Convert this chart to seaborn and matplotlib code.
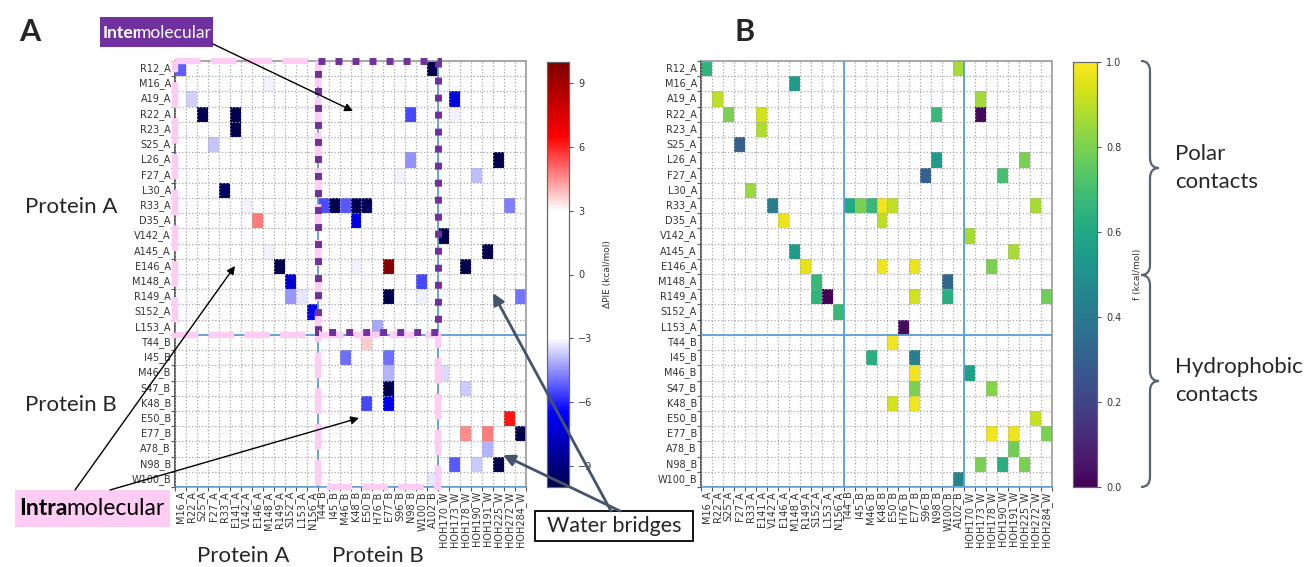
import numpy as np
import pandas as pd
import matplotlib
matplotlib.use("Agg")
import matplotlib.pyplot as plt
import seaborn as sns
from matplotlib.colors import LinearSegmentedColormap
from matplotlib.patches import Rectangle, PathPatch, FancyArrowPatch
from matplotlib.path import Path

# ---------------- data ----------------
row_labels = ["R12_A", "M16_A", "A19_A", "R22_A", "R23_A", "S25_A", "L26_A", "F27_A", "L30_A",
              "R33_A", "D35_A", "V142_A", "A145_A", "E146_A", "M148_A", "R149_A", "S152_A", "L153_A",
              "T44_B", "I45_B", "M46_B", "S47_B", "K48_B", "E50_B", "E77_B", "A78_B", "N98_B", "W100_B"]
col_labels = ["M16_A", "R22_A", "S25_A", "F27_A", "R33_A", "E141_A", "V142_A", "E146_A", "M148_A",
              "R149_A", "S152_A", "L153_A", "N156_A",
              "T44_B", "I45_B", "M46_B", "K48_B", "E50_B", "H76_B", "E77_B", "S96_B", "N98_B", "W100_B", "A102_B",
              "HOH170_W", "HOH173_W", "HOH178_W", "HOH190_W", "HOH191_W", "HOH225_W", "HOH272_W", "HOH284_W"]

contact_res1 = ["R12_A", "R12_A", "M16_A", "A19_A", "A19_A", "R22_A", "R22_A", "R22_A", "R22_A", "R23_A",
                "S25_A", "L26_A", "L26_A", "F27_A", "F27_A", "L30_A", "R33_A", "R33_A", "R33_A", "R33_A",
                "R33_A", "R33_A", "R33_A", "D35_A", "D35_A", "V142_A", "A145_A", "A145_A", "E146_A", "E146_A",
                "E146_A", "E146_A", "M148_A", "M148_A", "R149_A", "R149_A", "R149_A", "R149_A", "R149_A", "S152_A",
                "L153_A", "T44_B", "I45_B", "I45_B", "M46_B", "M46_B", "S47_B", "S47_B", "K48_B", "K48_B",
                "E50_B", "E77_B", "E77_B", "E77_B", "A78_B", "N98_B", "N98_B", "N98_B", "W100_B"]
contact_res2 = ["M16_A", "A102_B", "M148_A", "R22_A", "HOH173_W", "S25_A", "E141_A", "N98_B", "HOH173_W", "E141_A",
                "F27_A", "N98_B", "HOH225_W", "S96_B", "HOH190_W", "R33_A", "V142_A", "T44_B", "I45_B", "M46_B",
                "K48_B", "E50_B", "HOH272_W", "E146_A", "K48_B", "HOH170_W", "M148_A", "HOH191_W", "R149_A", "K48_B",
                "E77_B", "HOH178_W", "S152_A", "W100_B", "S152_A", "L153_A", "E77_B", "W100_B", "HOH284_W", "N156_A",
                "H76_B", "E50_B", "M46_B", "E77_B", "E77_B", "HOH170_W", "E77_B", "HOH178_W", "E50_B", "E77_B",
                "HOH272_W", "HOH178_W", "HOH191_W", "HOH284_W", "HOH191_W", "HOH173_W", "HOH190_W", "HOH225_W", "A102_B"]
dpie_values = [-5.2, -10.0, -3.2, -3.6, -7.0, -10.0, -10.0, -5.5, -3.2, -10.0,
               -3.8, -4.5, -10.0, -3.2, -3.9, -9.5, -3.2, -5.4, -10.0, -5.3,
               -10.0, -9.8, -4.7, 4.8, -7.0, -10.0, -3.2, -10.0, -10.0, -3.2,
               9.8, -10.0, -7.3, -5.5, -4.4, -3.3, -10.0, -3.2, -4.9, -6.8,
               -4.2, 3.7, -5.0, -5.0, -4.0, -3.5, -10.0, -3.7, -5.5, -6.8,
               6.2, 4.6, 4.8, -10.0, -4.0, -5.3, -3.7, -10.0, -3.3]
f_values = [0.65, 0.87, 0.55, 0.90, 0.86, 0.80, 0.93, 0.67, 0.02, 0.88,
            0.30, 0.55, 0.80, 0.30, 0.70, 0.85, 0.42, 0.60, 0.80, 0.67,
            0.98, 0.90, 0.87, 0.97, 0.90, 0.87, 0.55, 0.87, 0.96, 0.98,
            0.97, 0.80, 0.67, 0.33, 0.65, 0.00, 0.93, 0.63, 0.78, 0.67,
            0.03, 0.98, 0.63, 0.42, 0.98, 0.57, 0.80, 0.82, 0.93, 0.98,
            0.92, 0.98, 0.97, 0.80, 0.78, 0.80, 0.63, 0.80, 0.45]

pie_ticks = [-9, -6, -3, 0, 3, 6, 9]
f_ticks = [0.0, 0.2, 0.4, 0.6, 0.8, 1.0]

# ---------------- build matrices ----------------
df = pd.DataFrame({"res1": contact_res1, "res2": contact_res2, "dpie": dpie_values, "f": f_values})
dpie_mat = df.pivot(index="res1", columns="res2", values="dpie").reindex(index=row_labels, columns=col_labels)
f_mat = df.pivot(index="res1", columns="res2", values="f").reindex(index=row_labels, columns=col_labels)

sns.set_theme(style="white")
plt.rcParams["font.family"] = ["DejaVu Sans"]

W, H = 1313, 567
fig = plt.figure(figsize=(W / 100, H / 100), dpi=100)
fig.patch.set_facecolor("white")


def fax(x0, y0, x1, y1):
    return fig.add_axes([x0 / W, 1 - y1 / H, (x1 - x0) / W, (y1 - y0) / H])


axA = fax(175, 61, 526, 487)
caxA = fax(547, 62, 569, 487)
axB = fax(701, 61, 1052, 487)
caxB = fax(1073, 62, 1097, 487)

lo, hi = -10.0, 10.0
def cpos(v):
    return (v - lo) / (hi - lo)

cmap_pie = LinearSegmentedColormap.from_list("pie", [
    (cpos(-10), (0.0, 0.0, 0.3)), (cpos(-6.5), (0.0, 0.0, 1.0)), (cpos(-3), (1, 1, 1)),
    (cpos(3), (1, 1, 1)), (cpos(6.5), (1.0, 0.0, 0.0)), (cpos(10), (0.5, 0.0, 0.0))])

sns.heatmap(dpie_mat, ax=axA, cmap=cmap_pie, vmin=lo, vmax=hi, cbar_ax=caxA,
            cbar_kws={"ticks": pie_ticks}, xticklabels=True, yticklabels=True)
sns.heatmap(f_mat, ax=axB, cmap="viridis", vmin=0, vmax=1, cbar_ax=caxB,
            cbar_kws={"ticks": f_ticks}, xticklabels=True, yticklabels=True)

nr, nc = len(row_labels), len(col_labels)
n_a_rows = sum(r.endswith("_A") for r in row_labels)
n_a_cols = sum(c.endswith("_A") for c in col_labels)
n_b_cols = sum(c.endswith("_B") for c in col_labels)
line_blue = "#5a9fd4"

for ax in (axA, axB):
    ax.set_xticks(np.arange(nc) + 0.5)
    ax.set_xticklabels(col_labels, rotation=90, fontsize=7, color="#333333")
    ax.set_yticks(np.arange(nr) + 0.5)
    ax.set_yticklabels(row_labels, rotation=0, fontsize=7, color="#333333")
    ax.set_xticks(np.arange(nc + 1), minor=True)
    ax.set_yticks(np.arange(nr + 1), minor=True)
    ax.tick_params(which="major", length=0, pad=3, bottom=True, left=True)
    ax.tick_params(which="minor", length=3, width=0.8, color="#555555", bottom=True, left=True)
    ax.grid(which="minor", color="#a8a8a8", linestyle=":", linewidth=0.9)
    ax.grid(which="major", visible=False)
    ax.set_axisbelow(False)
    ax.set_xlabel("")
    ax.set_ylabel("")
    for name, s in ax.spines.items():
        s.set_visible(True)
        s.set_color("#9a9a9a")
        s.set_linewidth(1.2)
    ax.spines["left"].set_color("#444444")
    ax.axhline(n_a_rows, color=line_blue, lw=1.3, zorder=3)
    ax.axhline(nr, color=line_blue, lw=1.3, zorder=3)
    ax.axvline(n_a_cols, color=line_blue, lw=1.3, zorder=3)
    ax.axvline(n_a_cols + n_b_cols, color=line_blue, lw=1.3, zorder=3)

for cax, lab in ((caxA, "ΔPIE (kcal/mol)"), (caxB, "f (kcal/mol)")):
    cax.tick_params(labelsize=7, length=3, width=0.8, color="#555555", right=True, labelcolor="#333333")
    cax.tick_params(which="minor", length=0)
    cax.set_ylabel(lab, fontsize=6.5, color="#333333", labelpad=8)
    for s in cax.spines.values():
        s.set_visible(True)
        s.set_color("#666666")
        s.set_linewidth(0.8)
caxA.set_yticklabels([("\u2212" + str(abs(t))) if t < 0 else str(t) for t in pie_ticks])

# ---------------- region outlines ----------------
pink = "#ffccf4"
purple = "#7030a0"
ra = Rectangle((0, 0), n_a_cols, n_a_rows, fill=False, ec=pink, lw=4.6,
               linestyle=(0, (4.0, 1.6)), clip_on=False, zorder=6)
rb = Rectangle((n_a_cols, n_a_rows), n_b_cols, nr - n_a_rows, fill=False, ec=pink, lw=4.6,
               linestyle=(0, (4.0, 1.6)), clip_on=False, zorder=6)
rp = Rectangle((n_a_cols, 0), n_b_cols, n_a_rows - 0.2, fill=False, ec=purple, lw=5.0,
               linestyle=(0, (1.0, 1.45)), capstyle="butt", joinstyle="miter", clip_on=False, zorder=7)
for p in (ra, rb, rp):
    axA.add_patch(p)

# ---------------- annotations ----------------
LAT = ["Lato", "DejaVu Sans"]


def fx(x):
    return x / W


def fy(y):
    return 1 - y / H


def frect(x0, y0, x1, y1, fc, ec="none", lw=0):
    r = Rectangle((fx(x0), fy(y1)), (x1 - x0) / W, (y1 - y0) / H, transform=fig.transFigure,
                  fc=fc, ec=ec, lw=lw, zorder=8)
    fig.add_artist(r)


def ftext(x, y, s, **kw):
    kw.setdefault("family", LAT)
    kw.setdefault("zorder", 9)
    return fig.text(fx(x), fy(y), s, **kw)


def farrow(x0, y0, x1, y1, color="black", lw=1.0, ms=12):
    a = FancyArrowPatch((fx(x0), fy(y0)), (fx(x1), fy(y1)), transform=fig.transFigure,
                        arrowstyle="-|>", mutation_scale=ms, color=color, lw=lw, zorder=10,
                        shrinkA=0, shrinkB=0)
    fig.add_artist(a)


renderer = fig.canvas.get_renderer()


def two_part(x, y, bold_part, rest, color, size, kern):
    t = ftext(x, y, bold_part, fontsize=size, fontweight="bold", color=color, va="baseline")
    bb = t.get_window_extent(renderer)
    ftext(bb.x1 - kern, y, rest, fontsize=size, color=color, va="baseline")


ftext(30, 32, "A", fontsize=22, fontweight="bold", ha="center", va="center")
ftext(745, 32, "B", fontsize=22, fontweight="bold", ha="center", va="center")

# Intermolecular label
frect(100, 17, 213, 47, purple)
two_part(103, 38, "Inter", "molecular", "white", 12.5, 3)
farrow(213, 44, 353, 111)

# Intramolecular label
frect(15, 490, 170, 527, pink)
two_part(19, 515, "Intra", "molecular", "black", 16.5, 1)
farrow(75, 490, 235, 266)
farrow(110, 490, 359, 418)

ftext(25, 207, "Protein A", fontsize=16, va="center", ha="left")
ftext(25, 405, "Protein B", fontsize=16, va="center", ha="left")
ftext(243, 556, "Protein A", fontsize=16, va="center", ha="center")
ftext(378, 556, "Protein B", fontsize=16, va="center", ha="center")

# Water bridges label
frect(535, 511, 693, 541, "white", ec="black", lw=1.3)
ftext(614, 526, "Water bridges", fontsize=15.5, va="center", ha="center")
farrow(611, 511, 493, 293, color="#44546a", lw=2.0, ms=17)
farrow(620, 511, 503, 455, color="#44546a", lw=2.0, ms=17)

# Braces
def brace(x0, yt, yb, w):
    ym = (yt + yb) / 2
    r = 10
    xm = x0 + w / 2
    pts = [(x0, yt), (xm, yt), (xm, yt + r), (xm, ym - r), (xm, ym), (x0 + w, ym),
           (xm, ym), (xm, ym + r), (xm, yb - r), (xm, yb), (x0, yb)]
    codes = [Path.MOVETO, Path.CURVE3, Path.CURVE3, Path.LINETO, Path.CURVE3, Path.CURVE3,
             Path.CURVE3, Path.CURVE3, Path.LINETO, Path.CURVE3, Path.CURVE3]
    pts = [(fx(px), fy(py)) for px, py in pts]
    pp = PathPatch(Path(pts, codes), transform=fig.transFigure, fc="none", ec="#5b6270", lw=1.6, zorder=8)
    fig.add_artist(pp)


brace(1141, 61, 275, 18)
brace(1141, 275, 487, 18)
ftext(1175, 168, "Polar\ncontacts", fontsize=16, va="center", ha="left", linespacing=1.45)
ftext(1175, 381, "Hydrophobic\ncontacts", fontsize=16, va="center", ha="left", linespacing=1.45)

fig.savefig("out.png", dpi=100, facecolor="white")
